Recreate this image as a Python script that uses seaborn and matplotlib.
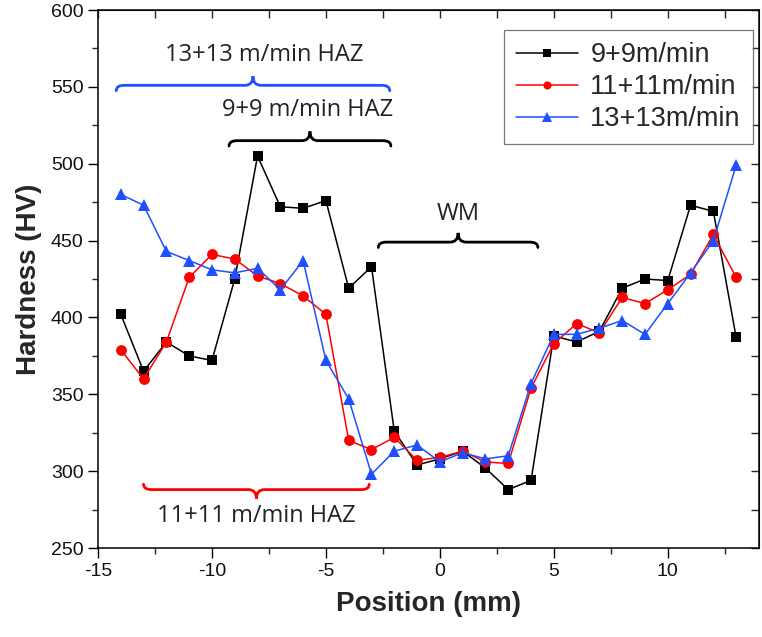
import numpy as np
import pandas as pd
import matplotlib
matplotlib.use("Agg")
import matplotlib.pyplot as plt
from matplotlib.path import Path
from matplotlib.patches import PathPatch
from matplotlib.ticker import MultipleLocator, NullFormatter
import seaborn as sns

position = list(range(-14, 14))
hv_9 = [402, 365, 384, 375, 372, 425, 505, 472, 471, 476, 419, 433, 326, 304,
        308, 313, 302, 288, 294, 388, 384, 391, 419, 425, 424, 473, 469, 387]
hv_11 = [379, 360, 384, 426, 441, 438, 427, 422, 414, 402, 320, 314, 322, 307,
         309, 313, 306, 305, 354, 383, 396, 390, 413, 409, 418, 428, 454, 426]
hv_13 = [480, 473, 443, 437, 431, 429, 432, 418, 437, 372, 347, 298, 313, 317,
         306, 312, 308, 310, 357, 389, 389, 393, 398, 389, 409, 429, 450, 499]
labels = ["9+9m/min", "11+11m/min", "13+13m/min"]
colors = ["black", "#ff0000", "#1f4fff"]
markers = ["s", "o", "^"]
msizes = [6.8, 7.8, 8.8]

df = pd.DataFrame({"Position": position * 3,
                   "Hardness": hv_9 + hv_11 + hv_13,
                   "Speed": np.repeat(labels, len(position))})

sns.set_style("ticks")
plt.rcParams["font.family"] = ["Liberation Sans", "DejaVu Sans"]
plt.rcParams["axes.unicode_minus"] = False

fig = plt.figure(figsize=(7.62, 6.37), dpi=100)
ax = fig.add_axes([0.1286, 0.1397, 0.8674, 0.8446])

for lab, c, m, ms in zip(labels, colors, markers, msizes):
    sns.lineplot(data=df[df.Speed == lab], x="Position", y="Hardness", ax=ax,
                 color=c, marker=m, markersize=ms, markeredgewidth=0,
                 linewidth=1.1, label=lab)

ax.set_xlim(-15, 14)
ax.set_ylim(250, 600)
ax.xaxis.set_major_locator(MultipleLocator(5))
ax.xaxis.set_minor_locator(MultipleLocator(2.5))
ax.yaxis.set_major_locator(MultipleLocator(50))
ax.yaxis.set_minor_locator(MultipleLocator(25))
ax.tick_params(which="major", direction="out", length=7, width=1, labelsize=14,
               color="black", labelcolor="#111111")
ax.tick_params(which="minor", direction="out", length=4, width=1)
for sp in ax.spines.values():
    sp.set_linewidth(1.1)
    sp.set_color("black")

# mirrored inward ticks on top and right
top = ax.secondary_xaxis("top")
top.xaxis.set_major_locator(MultipleLocator(2.5))
top.xaxis.set_major_formatter(NullFormatter())
top.tick_params(direction="in", length=6, width=1)
right = ax.secondary_yaxis("right")
right.yaxis.set_major_locator(MultipleLocator(25))
right.yaxis.set_major_formatter(NullFormatter())
right.tick_params(direction="in", length=6, width=1)

ax.set_xlabel("Position (mm)", fontsize=20, fontweight="bold", labelpad=8)
ax.set_ylabel("Hardness (HV)", fontsize=20, fontweight="bold", labelpad=6)

leg = ax.legend(loc="upper right", bbox_to_anchor=(0.991, 0.963), fontsize=19.5,
                frameon=True, fancybox=False, edgecolor="#555555",
                handlelength=2.3, markerscale=0.75, borderpad=0.45,
                labelspacing=0.22, handletextpad=0.45, borderaxespad=0)
leg.get_frame().set_linewidth(0.9)


def brace(x0, x1, y, color, up=True):
    s = 1 if up else -1
    xm = (x0 + x1) / 2
    w, he, ht = 0.35, 3.5, 6.0
    verts = [(x0, y - s * he), (x0, y), (x0 + w, y),
             (xm - w, y), (xm, y), (xm, y + s * ht),
             (xm, y), (xm + w, y),
             (x1 - w, y), (x1, y), (x1, y - s * he)]
    codes = [Path.MOVETO, Path.CURVE3, Path.CURVE3,
             Path.LINETO, Path.CURVE3, Path.CURVE3,
             Path.CURVE3, Path.CURVE3,
             Path.LINETO, Path.CURVE3, Path.CURVE3]
    ax.add_patch(PathPatch(Path(verts, codes), fill=False, edgecolor=color,
                           linewidth=2.0, capstyle="round"))


note = dict(fontsize=17, family=["Open Sans", "DejaVu Sans"], color="#222222",
            ha="center", va="center")

brace(-14.2, -2.2, 551, colors[2])
ax.text(-7.7, 570.5, "13+13 m/min HAZ", **note)
brace(-9.25, -2.15, 515, "black")
ax.text(-5.8, 535, "9+9 m/min HAZ", **note)
brace(-2.7, 4.3, 449, "black")
ax.text(0.8, 467, "WM", **note)
brace(-13.0, -3.1, 288, colors[1], up=False)
ax.text(-8.05, 270.5, "11+11 m/min HAZ", **note)

fig.savefig("out.png", dpi=100)
